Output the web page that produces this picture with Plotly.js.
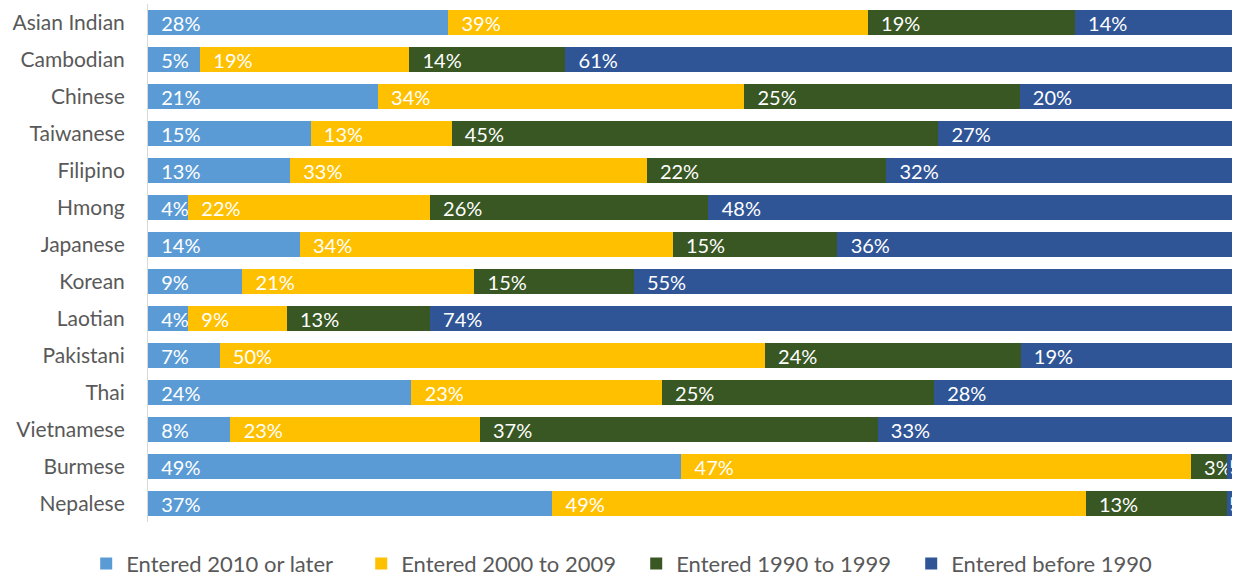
<!DOCTYPE html>
<html>
<head>
<meta charset="utf-8">
<script src="https://cdn.plot.ly/plotly-3.0.1.min.js"></script>
<style>html,body{margin:0;padding:0;background:#fff;}#chart{width:1233px;height:586px;}</style>
</head>
<body>
<div id="chart"></div>
<script>
const categories = ["Asian Indian","Cambodian","Chinese","Taiwanese","Filipino","Hmong","Japanese","Korean","Laotian","Pakistani","Thai","Vietnamese","Burmese","Nepalese"];
const seriesNames = ["Entered 2010 or later","Entered 2000 to 2009","Entered 1990 to 1999","Entered before 1990"];
const entered2010Later = [27.7, 4.8, 21.2, 15.0, 13.1, 3.7, 14.0, 8.7, 3.7, 6.6, 24.3, 7.6, 49.2, 37.3];
const entered2000to2009 = [38.7, 19.3, 33.8, 13.0, 32.9, 22.3, 34.4, 21.4, 9.1, 50.3, 23.1, 23.0, 47.0, 49.2];
const entered1990to1999 = [19.1, 14.4, 25.4, 44.9, 22.1, 25.7, 15.2, 14.7, 13.2, 23.6, 25.1, 36.7, 3.3, 13.0];
const enteredBefore1990 = [14.5, 61.5, 19.6, 27.1, 31.9, 48.3, 36.4, 55.2, 74.0, 19.5, 27.5, 32.7, 0.5, 0.5];
const label2010Later = ["28%","5%","21%","15%","13%","4%","14%","9%","4%","7%","24%","8%","49%","37%"];
const label2000to2009 = ["39%","19%","34%","13%","33%","22%","34%","21%","9%","50%","23%","23%","47%","49%"];
const label1990to1999 = ["19%","14%","25%","45%","22%","26%","15%","15%","13%","24%","25%","37%","3%","13%"];
const labelBefore1990 = ["14%","61%","20%","27%","32%","48%","36%","55%","74%","19%","28%","33%","1%","1%"];
const colors = ["#5B9BD5","#FFC000","#385723","#2F5597"];

const vals = [entered2010Later, entered2000to2009, entered1990to1999, enteredBefore1990];
const labs = [label2010Later, label2000to2009, label1990to1999, labelBefore1990];
const pad = "\u00a0\u00a0";
const traces = vals.map((v, i) => ({
  type: "bar",
  orientation: "h",
  name: seriesNames[i],
  y: categories,
  x: v,
  text: labs[i].map(t => pad + t),
  textposition: "inside",
  insidetextanchor: "start",
  constraintext: "none",
  cliponaxis: true,
  textfont: {color: "#ffffff", size: 20, family: "Lato, 'Open Sans', sans-serif"},
  marker: {color: colors[i], line: {width: 0}},
  hoverinfo: "none"
}));

const layout = {
  width: 1233, height: 586,
  barmode: "stack",
  bargap: 0.32,
  margin: {l: 148, r: 1, t: 4, b: 60},
  paper_bgcolor: "#ffffff",
  plot_bgcolor: "#ffffff",
  showlegend: true,
  font: {family: "Lato, 'Open Sans', sans-serif", color: "#595959", size: 20},
  xaxis: {range: [0, 100], visible: false, showgrid: false, zeroline: false, fixedrange: true},
  yaxis: {
    autorange: "reversed",
    showline: true, linecolor: "#d9d9d9", linewidth: 1,
    ticks: "outside", ticklen: 18, tickcolor: "rgba(0,0,0,0)",
    tickfont: {size: 21, color: "#595959"},
    showgrid: false, zeroline: false, fixedrange: true
  },
  legend: {
    orientation: "h", xref: "paper", x: -0.057, xanchor: "left",
    yref: "paper", y: -0.04, yanchor: "top",
    font: {size: 22, color: "#595959"},
    entrywidth: 230, entrywidthmode: "pixels",
    traceorder: "normal", itemclick: false, itemdoubleclick: false
  }
};

Plotly.newPlot("chart", traces, layout, {displayModeBar: false, staticPlot: true});
</script>
</body>
</html>
